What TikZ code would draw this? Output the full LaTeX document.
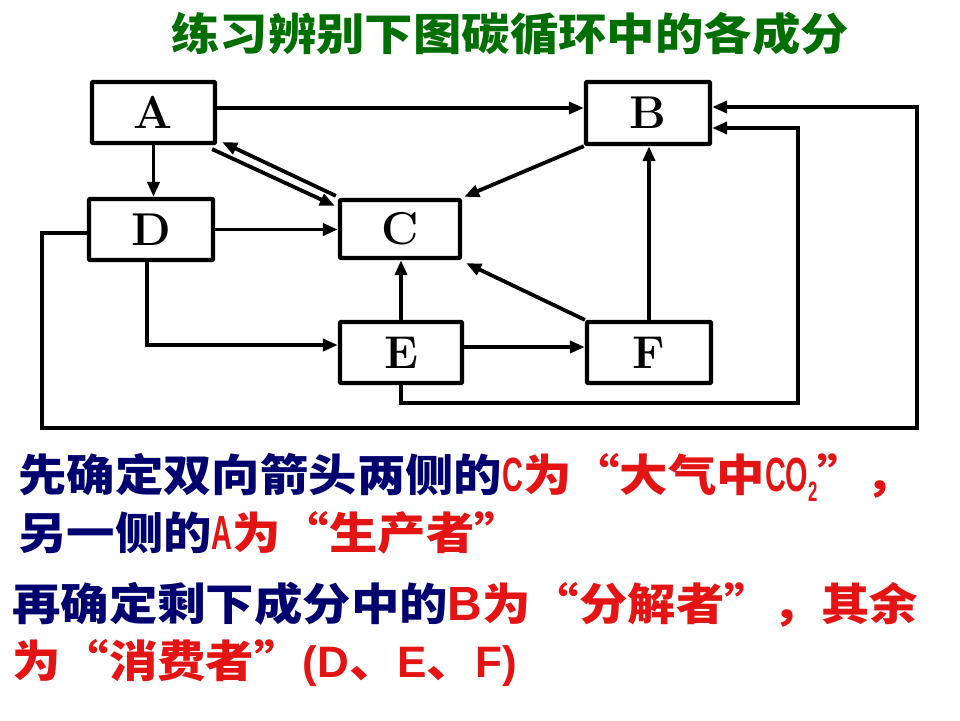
\documentclass[tikz,border=0pt]{standalone}
\usepackage{fontspec}
\usetikzlibrary{arrows.meta,calc}
\newfontfamily\cjk[FakeStretch=1.1]{Noto Sans CJK SC}
\newfontfamily\nlat[FakeStretch=0.6]{Liberation Sans}
\newfontfamily\alb{Liberation Sans}
\definecolor{ttlgreen}{RGB}{0,110,0}
\definecolor{navy}{RGB}{0,0,110}
\definecolor{redtxt}{RGB}{228,20,20}
\newcommand{\latbig}[1]{{\nlat\fontsize{48pt}{48pt}\selectfont #1}}
\begin{document}
\begin{tikzpicture}[x=1pt,y=-1pt,
  box/.style={draw, line width=4.3pt, rounded corners=1pt, inner sep=0pt,
    font=\fontsize{46pt}{46pt}\selectfont\bfseries},
  arr/.style={line width=3.8pt, -{Triangle[length=15pt,width=12pt]}},
  txt/.style={inner sep=0pt, anchor=west}]
\fill[white] (0,0) rectangle (960,720);
\useasboundingbox (0,0) rectangle (960,720);

% title
\node[inner sep=0pt] (title) at (510,34)
  {\fontsize{44pt}{44pt}\selectfont\cjk\bfseries\color{ttlgreen}练习辨别下图碳循环中的各成分};

% boxes
\node[box, minimum width=123pt, minimum height=61pt] (A) at (153.5,112.5) {A};
\node[box, minimum width=124pt, minimum height=62pt] (B) at (648,113) {B};
\node[box, minimum width=120pt, minimum height=58pt] (C) at (400,229) {C};
\node[box, minimum width=124pt, minimum height=61pt] (D) at (151,229.5) {D};
\node[box, minimum width=122pt, minimum height=61pt] (E) at (401,352.5) {E};
\node[box, minimum width=124pt, minimum height=61pt] (F) at (649,352.5) {F};

% helper coordinates
\coordinate (yab) at (0,108);
\coordinate (yde) at (0,345);
\coordinate (yef) at (0,347);
\coordinate (r1) at (798,403);
\coordinate (r1t) at (798,128);
\coordinate (o1) at (42,233);
\coordinate (o2) at (42,428);
\coordinate (o3) at (917,428);
\coordinate (o4) at (917,107);

% connectors
\draw[arr] (A.east |- yab) -- (B.west |- yab);
\draw[arr] (A.south) -- (A.south |- D.north);
\draw[arr] (D.east) -- (D.east -| C.west);
\draw[arr] ($(A.south east)+(-5,4)$) -- ($(C.north west)+(-3,8)$);
\draw[arr] ($(C.north west)+(-2,-2)$) -- ($(A.south east)+(5,-3)$);
\draw[arr] (B.south west) -- ($(C.north east)+(2,-1)$);
\draw[arr] (E.north) -- (E.north |- C.south);
\draw[arr] (F.north west) -- ($(C.south east)+(4,3)$);
\draw[arr] (F.north) -- (F.north |- B.south);
\draw[arr] ([xshift=-4pt]D.south) |- (E.west |- yde);
\draw[arr] (E.east |- yef) -- (F.west |- yef);
\draw[arr] (E.south) |- (r1) -- (r1t) -- (B.east |- r1t);
\draw[arr] (D.west |- o1) -- (o1) -- (o2) -- (o3) -- (o4) -- (B.east |- o4);

% explanatory text
\node[txt] (t1) at (18,477)
  {\fontsize{44pt}{44pt}\selectfont\cjk\bfseries\color{navy}先确定双向箭头两侧的\color{redtxt}\latbig{C}为“大气中\latbig{CO}{\nlat\raisebox{-10pt}{\fontsize{28pt}{28pt}\selectfont 2}}”，};
\node[txt] (t2) at (18,533)
  {\fontsize{44pt}{44pt}\selectfont\cjk\bfseries\color{navy}另一侧的\color{redtxt}\latbig{A}为“生产者”};
\node[txt] (t3) at (12,605)
  {\fontsize{44pt}{44pt}\selectfont\cjk\bfseries\color{navy}再确定剩下成分中的\color{redtxt}{\alb\bfseries\fontsize{48pt}{48pt}\selectfont B}为“分解者”，其余};
\node[txt] (t4) at (12,663)
  {\fontsize{44pt}{44pt}\selectfont\cjk\bfseries\color{redtxt}为“消费者”{\alb\bfseries (D}、{\alb\bfseries E}、{\alb\bfseries F)}};
\end{tikzpicture}
\end{document}
